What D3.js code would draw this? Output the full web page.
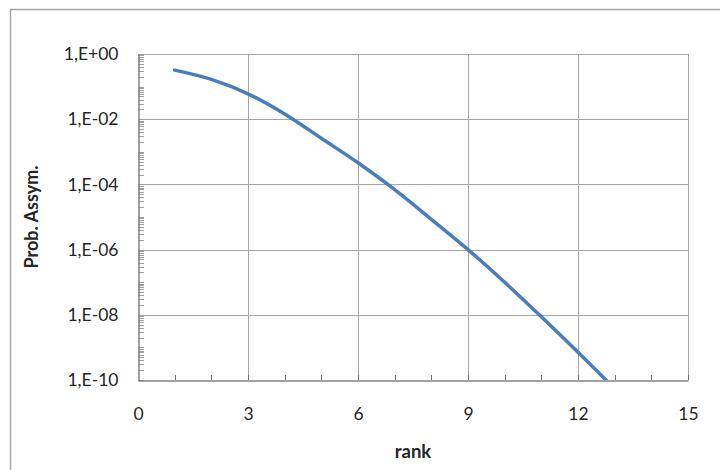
<!DOCTYPE html>
<html>
<head>
<meta charset="utf-8">
<script src="https://cdn.jsdelivr.net/npm/d3@7"></script>
<style>
  body { margin: 0; background: #fff; }
  svg { display: block; font-family: Lato, "Open Sans", sans-serif; }
</style>
</head>
<body>
<div id="chart"></div>
<script>
// values
var ranks = [1, 2, 3, 4, 5, 6, 7, 8, 9, 10, 11, 12, 13]
var probs = [0.32, 0.166, 0.060, 0.0145, 0.0026, 4.6e-4, 6.9e-5, 8.5e-6, 1.0e-6, 1.0e-7, 8.7e-9, 7.1e-10, 5.4e-11]

var xTicks = [0, 3, 6, 9, 12, 15]
var xMinor = [1, 2, 4, 5, 7, 8, 10, 11, 13, 14]
var yTicks = [1, 1e-2, 1e-4, 1e-6, 1e-8, 1e-10]

var width = 720, height = 470
var plot = {left: 138, right: 688, top: 54, bottom: 380}

var svg = d3.select('#chart').append('svg')
    .attr('width', width)
    .attr('height', height)

// outer chart frame (runs off the right and bottom edges)
svg.append('rect')
    .attr('x', 10.5).attr('y', 9.5)
    .attr('width', 760).attr('height', 520)
    .attr('fill', 'none')
    .attr('stroke', '#a6a6a6')
    .attr('stroke-width', 1.5)

var x = d3.scaleLinear().domain([0, 15]).range([plot.left, plot.right])
var y = d3.scaleLog().domain([1e-10, 1]).range([plot.bottom, plot.top])

// excel style label, 1,E-02
var fmt = d => {
    let e = Math.round(Math.log10(d))
    let s = e >= 0 ? '+' : '-'
    return '1,E' + s + String(Math.abs(e)).padStart(2, '0')
}

// gridlines
var grid = svg.append('g').attr('stroke', '#a6a6a6').attr('stroke-width', 1)
grid.selectAll('.gx')
    .data(xTicks.slice(1))
    .join('line')
    .attr('x1', d => Math.round(x(d)) + 0.5).attr('x2', d => Math.round(x(d)) + 0.5)
    .attr('y1', plot.top).attr('y2', plot.bottom)
grid.selectAll('.gy')
    .data(yTicks.slice(0, -1))
    .join('line')
    .attr('x1', plot.left).attr('x2', plot.right)
    .attr('y1', d => Math.round(y(d)) + 0.5).attr('y2', d => Math.round(y(d)) + 0.5)

// y minor ticks (log subdivisions), drawn inside
svg.append('g')
    .attr('stroke', '#a0a0a0')
    .selectAll('line')
    .data(y.ticks(20))
    .join('line')
    .attr('x1', plot.left).attr('x2', plot.left + 6)
    .attr('y1', d => Math.round(y(d)) + 0.5).attr('y2', d => Math.round(y(d)) + 0.5)

// x minor ticks, pointing up
svg.append('g')
    .attr('stroke', '#707070')
    .selectAll('line')
    .data(xMinor.concat(xTicks.slice(1)))
    .join('line')
    .attr('x1', d => Math.round(x(d)) + 0.5).attr('x2', d => Math.round(x(d)) + 0.5)
    .attr('y1', plot.bottom).attr('y2', plot.bottom - 5)

// axes
var xAxis = svg.append('g')
    .attr('transform', `translate(0,${plot.bottom + 0.5})`)
    .call(d3.axisBottom(x).tickValues(xTicks).tickSize(0).tickPadding(27))
xAxis.select('.domain').attr('stroke', '#808080').attr('stroke-width', 1.5)
xAxis.selectAll('text')
    .attr('font-size', 17.5)
    .attr('font-family', 'Lato, sans-serif')
    .attr('fill', '#262626')

var yAxis = svg.append('g')
    .attr('transform', `translate(${plot.left + 0.5},0)`)
    .call(d3.axisLeft(y).tickValues(yTicks).tickFormat(fmt).tickSize(0).tickPadding(20))
yAxis.select('.domain').attr('stroke', '#808080').attr('stroke-width', 1.5)
yAxis.selectAll('text')
    .attr('font-size', 17.5)
    .attr('font-family', 'Lato, sans-serif')
    .attr('fill', '#262626')

// clip the curve to the plot area
svg.append('clipPath').attr('id', 'clip')
    .append('rect')
    .attr('x', plot.left).attr('y', plot.top - 5)
    .attr('width', plot.right - plot.left).attr('height', plot.bottom - plot.top + 5)

var line = d3.line()
    .x((d, i) => x(ranks[i]))
    .y(d => y(d))
    .curve(d3.curveMonotoneX)

svg.append('path')
    .datum(probs)
    .attr('clip-path', 'url(#clip)')
    .attr('fill', 'none')
    .attr('stroke', '#4a7ebb')
    .attr('stroke-width', 3.5)
    .attr('stroke-linecap', 'round')
    .attr('d', line)

// axis titles
svg.append('text')
    .attr('x', (plot.left + plot.right) / 2)
    .attr('y', 458)
    .attr('text-anchor', 'middle')
    .attr('font-size', 18.5)
    .attr('font-weight', 'bold')
    .attr('fill', '#262626')
    .text('rank')

svg.append('text')
    .attr('transform', `translate(38,${(plot.top + plot.bottom) / 2}) rotate(-90)`)
    .attr('text-anchor', 'middle')
    .attr('font-size', 18)
    .attr('font-weight', 'bold')
    .attr('fill', '#262626')
    .text('Prob. Assym.')
</script>
</body>
</html>
